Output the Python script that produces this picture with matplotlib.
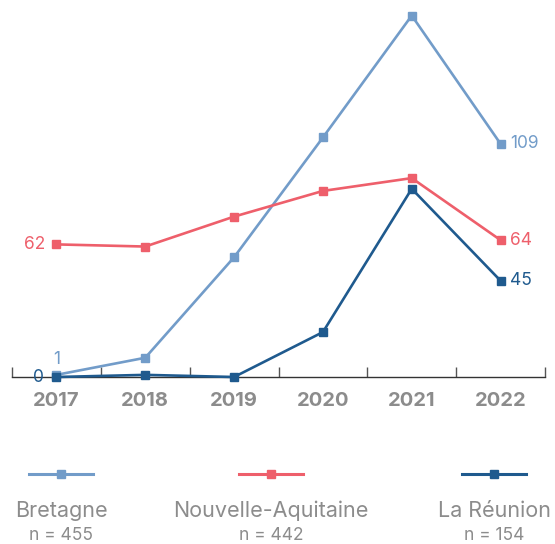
import matplotlib
matplotlib.use('Agg')
import matplotlib.pyplot as plt
from matplotlib.lines import Line2D

plt.rcParams['font.family'] = ['Inter', 'DejaVu Sans']

annees = ['2017', '2018', '2019', '2020', '2021', '2022']
bretagne = [1, 9, 56, 112, 169, 109]
nouvelle_aquitaine = [62, 61, 75, 87, 93, 64]
la_reunion = [0, 1, 0, 21, 88, 45]

series = ['Bretagne', 'Nouvelle-Aquitaine', 'La Réunion']
effectifs = [455, 442, 154]
couleurs = ['#729cc9', '#ee5f6b', '#1f5a8e']
valeurs = [bretagne, nouvelle_aquitaine, la_reunion]

gris = '#8c8c8c'

fig = plt.figure(figsize=(5.55, 5.44), dpi=100)
ax = fig.add_axes([12 / 555, 1 - 377 / 544, 533 / 555, 367 / 544])

x = list(range(len(annees)))
for vals, coul in zip(valeurs, couleurs):
    ax.plot(x, vals, color=coul, linewidth=1.9, marker='s', markersize=5.8,
            clip_on=False, zorder=3)

ax.set_xlim(-0.5, len(annees) - 0.5)
ax.set_ylim(0, 171.6)

# etiquettes de debut et fin de serie
ax.annotate(str(bretagne[0]), (0, bretagne[0]), xytext=(0, 5), textcoords='offset points',
            ha='center', va='bottom', color=couleurs[0], fontsize=12.5)
ax.annotate(str(nouvelle_aquitaine[0]), (0, nouvelle_aquitaine[0]), xytext=(-8, 0),
            textcoords='offset points', ha='right', va='center', color=couleurs[1], fontsize=12.5)
ax.annotate(str(la_reunion[0]), (0, la_reunion[0]), xytext=(-9, 0),
            textcoords='offset points', ha='right', va='center', color=couleurs[2], fontsize=12.5)
for vals, coul in zip(valeurs, couleurs):
    ax.annotate(str(vals[-1]), (len(annees) - 1, vals[-1]), xytext=(7, 0),
                textcoords='offset points', ha='left', va='center', color=coul, fontsize=12.5)

# axes
for s in ['top', 'right', 'left']:
    ax.spines[s].set_visible(False)
ax.spines['bottom'].set_color('#333333')
ax.spines['bottom'].set_linewidth(1)
ax.set_yticks([])
ax.set_xticks(x)
ax.set_xticklabels(annees, fontsize=14.5, fontweight='bold', color=gris)
ax.tick_params(axis='x', which='major', length=0, pad=11)
ax.set_xticks([i - 0.5 for i in range(len(annees) + 1)], minor=True)
ax.tick_params(axis='x', which='minor', direction='in', length=7, width=1, color='#555555')

# legende manuelle
centres = [61, 271, 494]
for cx, nom, n, coul in zip(centres, series, effectifs, couleurs):
    fx = cx / 555
    fy = 1 - 474 / 544
    fig.add_artist(Line2D([fx - 32 / 555, fx + 32 / 555], [fy, fy], color=coul, linewidth=2.2,
                          transform=fig.transFigure))
    fig.add_artist(Line2D([fx], [fy], color=coul, marker='s', markersize=5.8, linestyle='none',
                          transform=fig.transFigure))
    fig.text(fx, 1 - 511 / 544, nom, ha='center', va='center', fontsize=15.5, color=gris)
    fig.text(fx, 1 - 536 / 544, 'n = ' + str(n), ha='center', va='center', fontsize=12.5, color=gris)

fig.savefig('out.png', dpi=100)
